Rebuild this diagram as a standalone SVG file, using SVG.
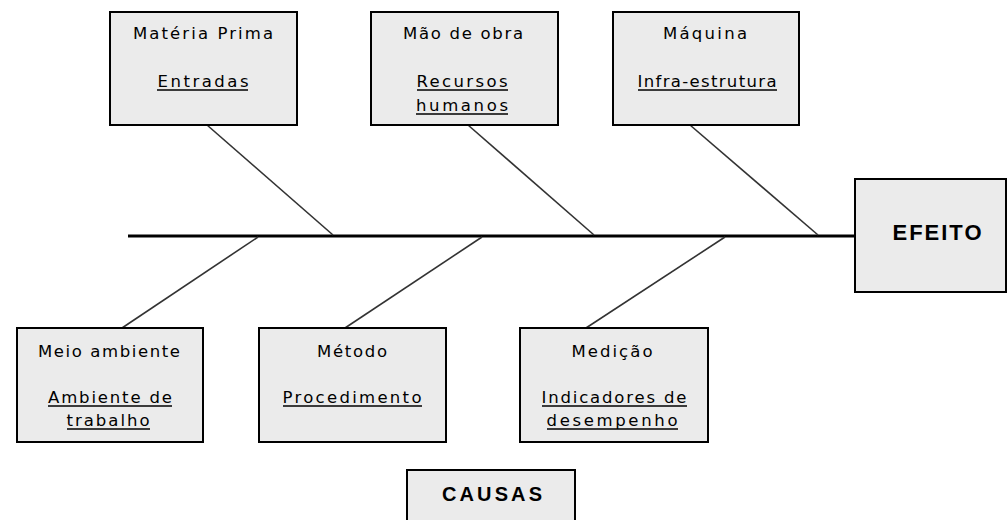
<svg xmlns="http://www.w3.org/2000/svg" width="1007" height="520" viewBox="0 0 1007 520">
<style>
.box{fill:#ebebeb;stroke:#000;stroke-width:2}
.t{font-family:"DejaVu Sans",sans-serif;font-size:16.5px;fill:#000;text-anchor:middle}
.ul{stroke:#000;stroke-width:1.5}
.b{font-family:"Liberation Sans",Arial,sans-serif;font-weight:bold;fill:#000;text-anchor:middle}
.bone{stroke:#333;stroke-width:1.6;fill:none}
.spine{stroke:#000;stroke-width:3;fill:none}
</style>
<rect width="1007" height="520" fill="#fff"/>
<g id="connectors">
<line class="spine" x1="128" y1="236" x2="855" y2="236"/>
<line class="bone" x1="207" y1="125" x2="333" y2="235"/>
<line class="bone" x1="468" y1="125" x2="594" y2="235"/>
<line class="bone" x1="690" y1="125" x2="818" y2="235"/>
<line class="bone" x1="258" y1="237" x2="122" y2="328"/>
<line class="bone" x1="482" y1="237" x2="345" y2="328"/>
<line class="bone" x1="725" y1="237" x2="586" y2="328"/>
</g>
<g id="materia-prima">
<rect class="box" x="110" y="12" width="187" height="113"/>
<text class="t" x="203" y="39" textLength="140" lengthAdjust="spacing">Matéria  Prima</text>
<text class="t" x="203" y="87" textLength="91" lengthAdjust="spacing">Entradas</text>
<line class="ul" x1="157" y1="90" x2="248" y2="90"/>
</g>
<g id="mao-de-obra">
<rect class="box" x="371" y="12" width="187" height="113"/>
<text class="t" x="463" y="39" textLength="120" lengthAdjust="spacing">Mão de obra</text>
<text class="t" x="462" y="87" textLength="91" lengthAdjust="spacing">Recursos</text>
<line class="ul" x1="417" y1="90" x2="508" y2="90"/>
<text class="t" x="462" y="111" textLength="92" lengthAdjust="spacing">humanos</text>
<line class="ul" x1="416" y1="114" x2="508" y2="114"/>
</g>
<g id="maquina">
<rect class="box" x="613" y="12" width="186" height="113"/>
<text class="t" x="705" y="39" textLength="84" lengthAdjust="spacing">Máquina</text>
<text class="t" x="707" y="87" textLength="139" lengthAdjust="spacing">Infra-estrutura</text>
<line class="ul" x1="638" y1="90" x2="777" y2="90"/>
</g>
<g id="efeito">
<rect class="box" x="855" y="179" width="151" height="113"/>
<text class="b" x="937" y="240" font-size="22" textLength="89" lengthAdjust="spacing">EFEITO</text>
</g>
<g id="meio-ambiente">
<rect class="box" x="17" y="328" width="186" height="114"/>
<text class="t" x="109" y="357" textLength="142" lengthAdjust="spacing">Meio ambiente</text>
<text class="t" x="110" y="403" textLength="124" lengthAdjust="spacing">Ambiente de</text>
<line class="ul" x1="48" y1="406" x2="172" y2="406"/>
<text class="t" x="108" y="426" textLength="83" lengthAdjust="spacing">trabalho</text>
<line class="ul" x1="67" y1="429" x2="150" y2="429"/>
</g>
<g id="metodo">
<rect class="box" x="259" y="328" width="187" height="114"/>
<text class="t" x="352" y="357" textLength="70" lengthAdjust="spacing">Método</text>
<text class="t" x="352" y="403" textLength="139" lengthAdjust="spacing">Procedimento</text>
<line class="ul" x1="283" y1="406" x2="422" y2="406"/>
</g>
<g id="medicao">
<rect class="box" x="520" y="328" width="188" height="114"/>
<text class="t" x="612" y="357" textLength="81" lengthAdjust="spacing">Medição</text>
<text class="t" x="614" y="403" textLength="145" lengthAdjust="spacing">Indicadores de</text>
<line class="ul" x1="542" y1="406" x2="687" y2="406"/>
<text class="t" x="612" y="426" textLength="131" lengthAdjust="spacing">desempenho</text>
<line class="ul" x1="547" y1="429" x2="678" y2="429"/>
</g>
<g id="causas">
<rect class="box" x="407" y="470" width="168" height="60"/>
<text class="b" x="492" y="501" font-size="20" textLength="100" lengthAdjust="spacing">CAUSAS</text>
</g>
</svg>
